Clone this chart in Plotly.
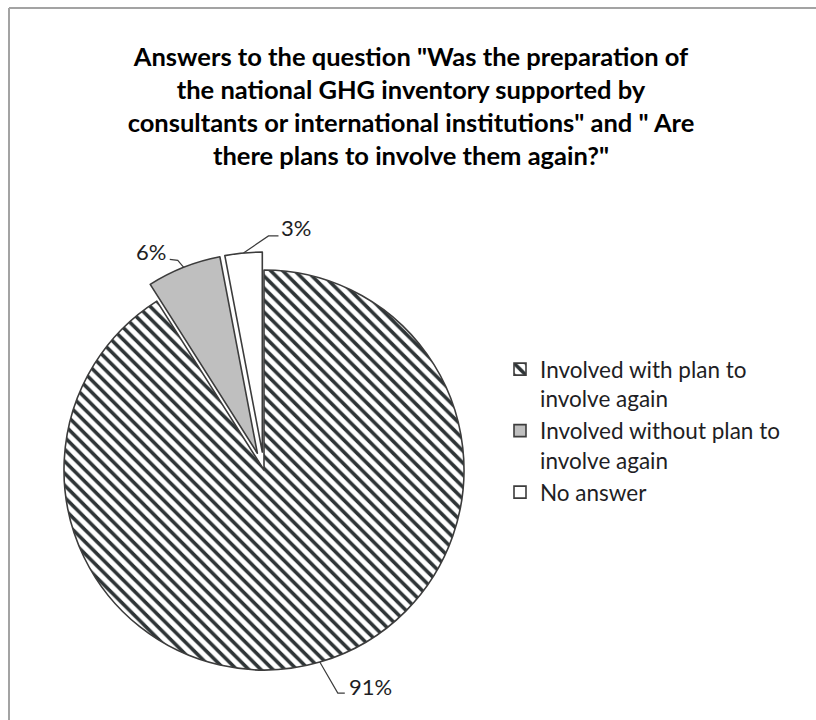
import math
import plotly.graph_objects as go

# ---- data -------------------------------------------------------------
categories = [
    "Involved with plan to<br>involve again",
    "Involved without plan to<br>involve again",
    "No answer",
]
shares = [91, 6, 3]          # percent of respondents
pull_out = [0, 0.09, 0.09]   # exploded slices

title_text = ('Answers to the question "Was the preparation of<br>'
              'the national GHG inventory supported by<br>'
              'consultants or international institutions" and " Are<br>'
              'there plans to involve them again?"')

# ---- page / pie geometry ----------------------------------------------
W, H = 816, 720
CX, CY = 264, 470            # pie centre in px
R = 200                      # pie radius in px
max_pull = max(pull_out)
half_box = R * (1 + max_pull)
dom_x = [(CX - half_box) / W, (CX + half_box) / W]
dom_y = [1 - (CY + half_box) / H, 1 - (CY - half_box) / H]

def to_paper(px, py):
    return px / W, 1 - py / H

TEXT = "#1e1e24"
FONT = "Lato"

fig = go.Figure(go.Pie(
    labels=categories,
    values=shares,
    sort=False,
    direction="clockwise",
    rotation=0,
    pull=pull_out,
    textinfo="none",
    hoverinfo="label+percent",
    domain=dict(x=dom_x, y=dom_y),
    marker=dict(
        colors=["#ffffff", "#bfbfbf", "#ffffff"],
        line=dict(color="#3c3c3c", width=1.6),
        pattern=dict(shape=["\\", "", ""], fgcolor="#2e3436",
                     size=8.5, solidity=0.42),
    ),
))

# ---- outside labels with leader lines ---------------------------------
# offsets (px) of leader elbow / end and label anchor relative to arc point
leader_style = [
    dict(elbow=(18, 31), end=(25, 31), text=(27, 24), xanchor="left"),
    dict(elbow=(-6, -7), end=(-14, -8), text=(-16, -16), xanchor="right"),
    dict(elbow=(25, -17), end=(35, -17), text=(36, -25), xanchor="left"),
]
total = sum(shares)
cum = 0
shapes = []
annotations = []
for val, pl, st in zip(shares, pull_out, leader_style):
    mid = (cum + val / 2) / total * 2 * math.pi
    cum += val
    rr = R * (1 + pl)
    ax = CX + rr * math.sin(mid)
    ay = CY - rr * math.cos(mid)
    pts = [(ax, ay), (ax + st["elbow"][0], ay + st["elbow"][1]),
           (ax + st["end"][0], ay + st["end"][1])]
    path = "M " + " L ".join(
        "{:.5f},{:.5f}".format(*to_paper(px, py)) for px, py in pts)
    shapes.append(dict(type="path", xref="paper", yref="paper", path=path,
                       line=dict(color="#3c3c3c", width=1.2)))
    tx, ty = to_paper(ax + st["text"][0], ay + st["text"][1])
    annotations.append(dict(
        x=tx, y=ty, xref="paper", yref="paper", showarrow=False,
        text=f"{val}%", xanchor=st["xanchor"], yanchor="middle",
        font=dict(family=FONT, size=22, color=TEXT)))

# chart frame (left and top edges)
fx0, fy0 = to_paper(9, 8)
shapes.append(dict(type="line", xref="paper", yref="paper",
                   x0=fx0, y0=-0.1, x1=fx0, y1=fy0,
                   line=dict(color="#a3a3a3", width=2)))
shapes.append(dict(type="line", xref="paper", yref="paper",
                   x0=fx0, y0=fy0, x1=1.1, y1=fy0,
                   line=dict(color="#a3a3a3", width=2)))

fig.update_layout(
    width=W, height=H,
    margin=dict(l=0, r=0, t=0, b=0),
    paper_bgcolor="#ffffff",
    plot_bgcolor="#ffffff",
    title=dict(text=title_text, x=411 / W, xanchor="center",
               y=1 - 66 / H, yanchor="middle",
               font=dict(family=FONT, size=25.5, color="#000000",
                         weight="bold")),
    legend=dict(x=500 / W, y=1 - 348 / H, xanchor="left", yanchor="top",
                valign="top", bgcolor="rgba(0,0,0,0)",
                font=dict(family=FONT, size=22.5, color=TEXT)),
    shapes=shapes,
    annotations=annotations,
)

fig.write_html("out.html")
